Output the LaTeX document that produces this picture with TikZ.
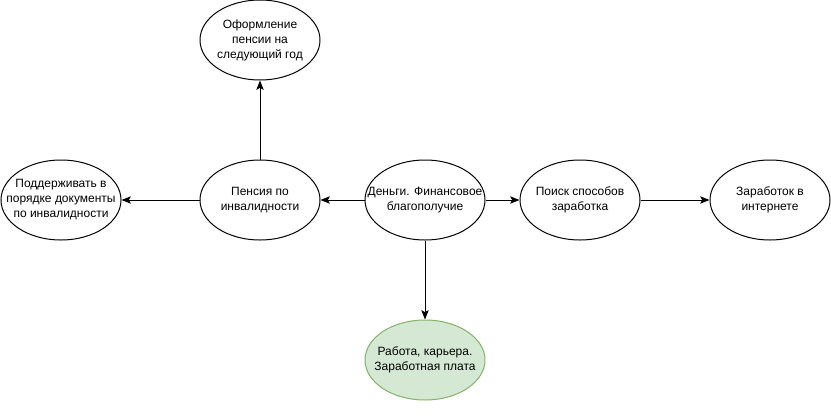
\documentclass[tikz,border=0pt]{standalone}
\usepackage{fontspec}
\setmainfont{Liberation Sans}
\usetikzlibrary{arrows.meta,shapes.geometric}
\definecolor{gfill}{HTML}{D5E8D4}
\definecolor{gline}{HTML}{82B366}
\begin{document}
\begin{tikzpicture}[x=0.75pt,y=-0.75pt,
  ell/.style={draw=black,line width=0.75pt,ellipse,minimum width=120*0.75pt,minimum height=80*0.75pt,inner sep=0pt,
    label={[align=center,font=\fontsize{9}{11.25}\selectfont]center:#1}},
  conn/.style={draw=black,line width=0.75pt,-{Stealth[length=7pt,width=5.5pt,inset=1.5pt]}}]
\useasboundingbox (0,0) rectangle (831,418);
\node[ell={Оформление\\пенсии на\\следующий год}] (top) at (260,40) {};
\node[ell={Поддерживать в\\порядке документы\\по инвалидности}] (left) at (61,200) {};
\node[ell={Пенсия по\\инвалидности}] (pen) at (260,200) {};
\node[ell={Деньги. Финансовое\\благополучие}] (mid) at (425,200) {};
\node[ell={Поиск способов\\заработка}] (search) at (580,200) {};
\node[ell={Заработок в\\интернете}] (net) at (770,200) {};
\node[ell={Работа, карьера.\\Заработная плата},fill=gfill,draw=gline] (work) at (425,360) {};
\draw[conn] (mid.west) -- (pen.east);
\draw[conn] (pen.west) -- (left.east);
\draw[conn] (pen.north) -- (top.south);
\draw[conn] (mid.east) -- (search.west);
\draw[conn] (search.east) -- (net.west);
\draw[conn] (mid.south) -- (work.north);
\end{tikzpicture}
\end{document}
